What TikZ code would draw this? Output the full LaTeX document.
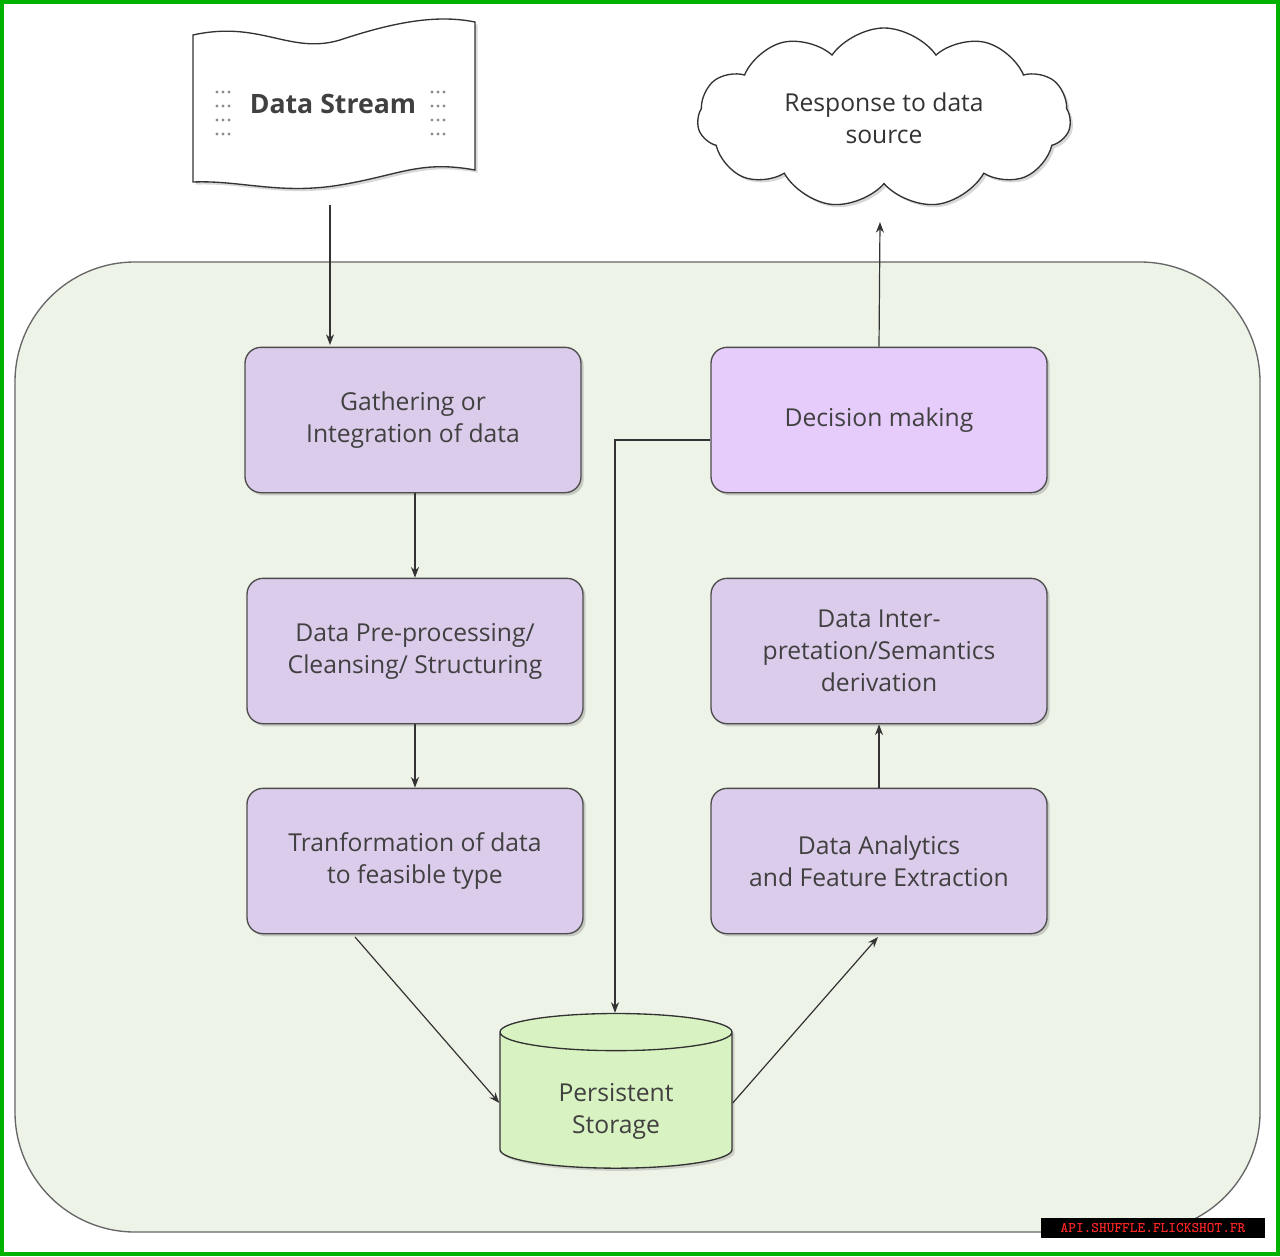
\documentclass[tikz,border=0pt]{standalone}
\usepackage{fontspec}
\setmainfont{Open Sans}
\usetikzlibrary{shapes.geometric,shapes.symbols,shadows,arrows.meta}
\definecolor{lil}{HTML}{DCCCEB}
\definecolor{lil2}{HTML}{E6CCFA}
\definecolor{bg}{HTML}{EEF3E8}
\definecolor{grn}{HTML}{D9F2C2}
\begin{document}
\begin{tikzpicture}[x=0.75pt,y=-0.75pt,
 box/.style={draw=black!70,line width=1pt,fill=lil,rounded corners=12pt,drop shadow={opacity=0.35,shadow xshift=2pt,shadow yshift=-2pt},minimum width=252pt,minimum height=109pt,align=center,font=\fontsize{18.5}{24}\selectfont,text=black!75},
 arr/.style={-{Stealth[length=8pt,width=6pt]},line width=0.9pt,draw=black!80}]
\useasboundingbox (0,0) rectangle (1280,1256);
\draw[green!70!black,line width=3pt,fill=white] (2,2) rectangle (1278,1254);
\draw[black!60,line width=1pt,fill=bg,rounded corners=90pt] (15,262) rectangle (1260,1232);
% data stream
\draw[black!80,line width=1pt,fill=white,drop shadow={opacity=0.3,shadow xshift=2pt,shadow yshift=-2pt}] (193,35) .. controls (260,20) and (290,55) .. (340,40) .. controls (400,20) and (440,15) .. (475,22) -- (475,170) .. controls (420,160) and (400,175) .. (340,185) .. controls (280,195) and (240,180) .. (193,182) -- cycle;
\node[font=\fontsize{20}{22}\selectfont\bfseries,text=black!75] (ds) at (333,104) {Data Stream};
\foreach \xx in {217,432} \foreach \yy in {92,106,120,134} \foreach \k in {0,6,12}
  \fill[black!45] (\xx+\k,\yy) circle (1.2pt);
\coordinate (dsb) at (330,205);
% cloud
\node[cloud,cloud puffs=11,cloud puff arc=110,aspect=2.1,draw=black!80,line width=1pt,fill=white,minimum width=280pt,minimum height=135pt,align=center,font=\fontsize{18.5}{24}\selectfont,text=black!80,drop shadow={opacity=0.3,shadow xshift=2pt,shadow yshift=-2pt}] (cl) at (884,118) {Response to data\\source};
\coordinate (clb) at (880,222);
\node[box] (g) at (413,420) {Gathering or\\Integration of data};
\node[box] (p) at (415,651) {Data Pre-processing/\\Cleansing/ Structuring};
\node[box] (t) at (415,861) {Tranformation of data\\to feasible type};
\node[box,fill=lil2] (d) at (879,420) {Decision making};
\node[box] (i) at (879,651) {Data Inter-\\pretation/Semantics\\derivation};
\node[box] (a) at (879,861) {Data Analytics\\and Feature Extraction};
\node[cylinder,shape border rotate=90,aspect=0.3,draw=black!80,line width=1pt,fill=grn,minimum width=174pt,minimum height=116pt,align=center,font=\fontsize{18.5}{24}\selectfont,text=black!75,drop shadow={opacity=0.3,shadow xshift=2pt,shadow yshift=-2pt}] (s) at (616,1103) {\\[2pt]Persistent\\Storage};
\draw[arr] (dsb) -- (330,345);
\draw[arr] (415,493) -- (p.north-|415,0);
\draw[arr] (p.south) -- (t.north);
\draw[arr] (355,937) -- (s.west);
\draw[arr] (s.east) -- (878,937);
\draw[arr] (a.north) -- (i.south);
\draw[arr] (d.west|-0,440) -- (615,440) -- (s.north-|615,0);
\draw[arr] (d.north) -- (clb);
\node[fill=black,text=red!85!white,font=\ttfamily\bfseries\fontsize{11}{12}\selectfont,inner sep=1pt,minimum width=168pt,minimum height=15pt] (wm) at (1153,1228) {API.SHUFFLE.FLICKSHOT.FR};
\end{tikzpicture}
\end{document}
